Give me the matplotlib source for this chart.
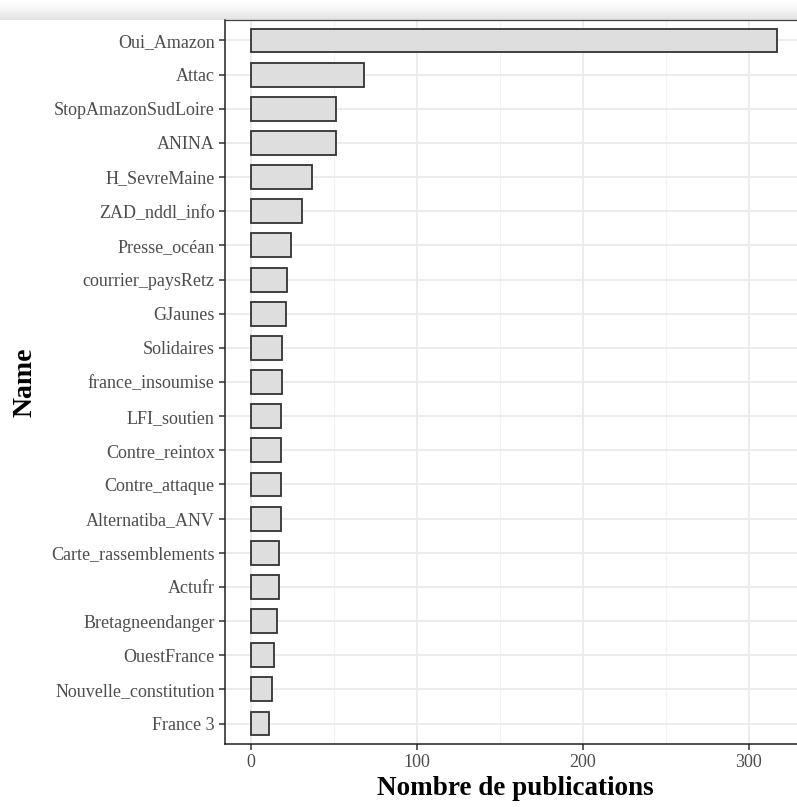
import matplotlib
matplotlib.use("Agg")
import matplotlib.pyplot as plt
import numpy as np

names = ["Oui_Amazon", "Attac", "StopAmazonSudLoire", "ANINA", "H_SevreMaine",
         "ZAD_nddl_info", "Presse_océan", "courrier_paysRetz", "GJaunes", "Solidaires",
         "france_insoumise", "LFI_soutien", "Contre_reintox", "Contre_attaque",
         "Alternatiba_ANV", "Carte_rassemblements", "Actufr", "Bretagneendanger",
         "OuestFrance", "Nouvelle_constitution", "France 3"]
counts = [317, 68, 51, 51, 37, 31, 24, 22, 21, 19, 19, 18, 18, 18, 18, 17, 17, 16, 14, 13, 11]
xticks = [0, 100, 200, 300]

plt.rcParams['font.family'] = ['Liberation Serif', 'DejaVu Serif']

W, H = 797, 807
fig = plt.figure(figsize=(W / 100, H / 100), dpi=100)

# top gradient band (screenshot shadow)
band = fig.add_axes([0, 1 - 20 / H, 1, 20 / H], zorder=0)
grad = np.linspace(0, 1, 50).reshape(-1, 1)
vals = 1.0 - 0.12 * grad ** 1.5
band.imshow(np.dstack([vals, vals, vals]), aspect='auto', extent=[0, 1, 0, 1],
            origin='upper', interpolation='bilinear')
band.axis('off')

left = 224.5 / W
bottom = 1 - 744 / H
top = 1 - 20 / H
xmin, xmax = -15.9, 333.9
px_per_unit = 1.66
width_px = (xmax - xmin) * px_per_unit
ax = fig.add_axes([left, bottom, width_px / W, top - bottom], zorder=2)

n = len(names)
ypos = np.arange(n)[::-1] + 1
ax.barh(ypos, counts, height=0.7, color='#dedede', edgecolor='#333333', linewidth=1.3, zorder=3)

ax.set_xlim(xmin, xmax)
ax.set_ylim(0.4, n + 0.6)
ax.set_yticks(ypos)
ax.set_yticklabels(names)
ax.set_xticks(xticks)
ax.set_xticklabels([str(v) for v in xticks])
ax.set_xticks([50, 150, 250], minor=True)

ax.grid(True, which='major', color='#ebebeb', linewidth=1.3, zorder=0)
ax.grid(True, which='minor', axis='x', color='#f2f2f2', linewidth=0.8, zorder=0)
ax.set_axisbelow(True)

for s in ['top', 'right']:
    ax.spines[s].set_visible(False)
for s in ['left', 'bottom']:
    ax.spines[s].set_color('#222222')
    ax.spines[s].set_linewidth(1.1)
ax.plot([0, 1], [1, 1], transform=ax.transAxes, color='#444444', linewidth=0.9, clip_on=False, zorder=5)

ax.tick_params(axis='both', which='major', colors='#333333', labelcolor='#4d4d4d',
               length=4, width=1.1, labelsize=13)
ax.tick_params(axis='x', which='minor', length=0)
ax.tick_params(axis='y', pad=3)
ax.tick_params(axis='x', pad=3)

ax.set_xlabel('Nombre de publications', fontsize=19.5, fontweight='bold', labelpad=4)
ax.set_ylabel('Name', fontsize=20, fontweight='bold', labelpad=10)

fig.savefig('out.png', dpi=100)
